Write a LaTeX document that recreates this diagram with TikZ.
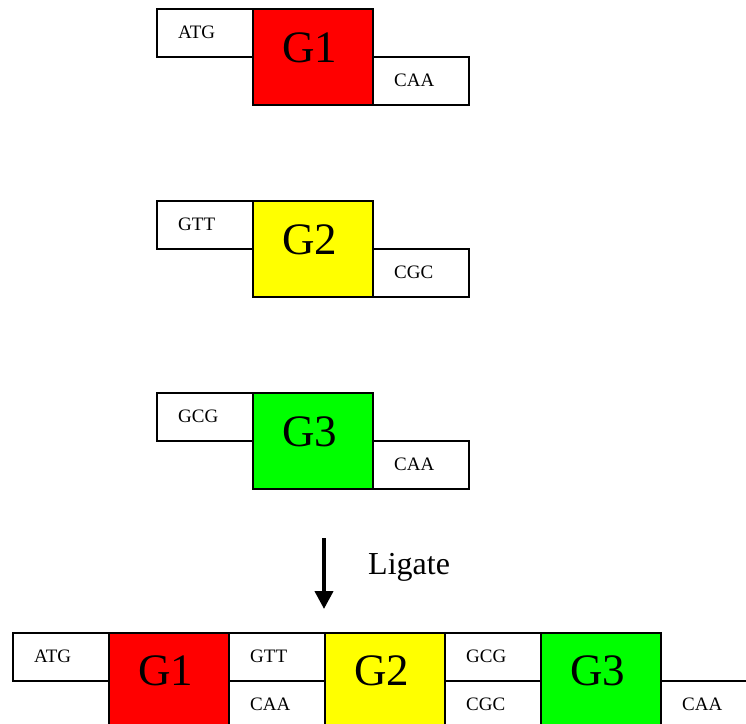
\documentclass[tikz,border=0pt]{standalone}
\usepackage{fontspec}
\setmainfont{Liberation Serif}
\usetikzlibrary{arrows.meta}
\definecolor{gred}{RGB}{255,0,0}
\definecolor{gyel}{RGB}{255,255,0}
\definecolor{ggrn}{RGB}{0,255,0}
\begin{document}
\begin{tikzpicture}[x=1pt,y=-1pt,
  ovh/.style={draw=black, line width=2pt, fill=white, minimum width=96pt, minimum height=48pt, inner sep=0pt, outer sep=0pt, anchor=north west},
  gene/.style={draw=black, line width=2pt, minimum width=120pt, minimum height=96pt, inner sep=0pt, outer sep=0pt, anchor=north west},
  seq/.style={anchor=base west, inner sep=0pt, font=\fontsize{19}{22}\selectfont},
  gname/.style={anchor=base west, inner sep=0pt, font=\fontsize{45}{50}\selectfont}]
\useasboundingbox (0,0) rectangle (746,723);
\clip (0,0) rectangle (746,723);
% module 1
\node[ovh] (a1) at (157,9) {};
\node[gene, fill=gred] (g1) at (253,9) {};
\node[ovh] (b1) at (373,57) {};
\node[seq] (ta1) at ([shift={(21,29)}]a1.north west) {ATG};
\node[seq] (tb1) at ([shift={(21,29)}]b1.north west) {CAA};
\node[gname] (tg1) at ([shift={(29,53)}]g1.north west) {G1};
% module 2
\node[ovh] (a2) at (157,201) {};
\node[gene, fill=gyel] (g2) at (253,201) {};
\node[ovh] (b2) at (373,249) {};
\node[seq] (ta2) at ([shift={(21,29)}]a2.north west) {GTT};
\node[seq] (tb2) at ([shift={(21,29)}]b2.north west) {CGC};
\node[gname] (tg2) at ([shift={(29,53)}]g2.north west) {G2};
% module 3
\node[ovh] (a3) at (157,393) {};
\node[gene, fill=ggrn] (g3) at (253,393) {};
\node[ovh] (b3) at (373,441) {};
\node[seq] (ta3) at ([shift={(21,29)}]a3.north west) {GCG};
\node[seq] (tb3) at ([shift={(21,29)}]b3.north west) {CAA};
\node[gname] (tg3) at ([shift={(29,53)}]g3.north west) {G3};
% arrow
\coordinate (as) at (324,538);
\coordinate (ae) at (324,609);
\draw[line width=4pt, -{Triangle[width=18pt,length=18pt]}] (as) -- (ae);
\node[anchor=base west, inner sep=0pt, font=\fontsize{32}{38}\selectfont] (lig) at (368,574) {Ligate};
% ligated product
\node[ovh] (pa) at (13,633) {};
\node[gene, fill=gred] (pg1) at (109,633) {};
\node[ovh] (pgtt) at (229,633) {};
\node[ovh] (pcaa1) at (229,681) {};
\node[gene, fill=gyel] (pg2) at (325,633) {};
\node[ovh] (pgcg) at (445,633) {};
\node[ovh] (pcgc) at (445,681) {};
\node[gene, fill=ggrn] (pg3) at (541,633) {};
\node[ovh] (pcaa2) at (661,681) {};
\node[seq] (pta) at ([shift={(21,29)}]pa.north west) {ATG};
\node[gname] (ptg1) at ([shift={(29,52)}]pg1.north west) {G1};
\node[seq] (ptgtt) at ([shift={(21,29)}]pgtt.north west) {GTT};
\node[seq] (ptcaa1) at ([shift={(21,29)}]pcaa1.north west) {CAA};
\node[gname] (ptg2) at ([shift={(29,52)}]pg2.north west) {G2};
\node[seq] (ptgcg) at ([shift={(21,29)}]pgcg.north west) {GCG};
\node[seq] (ptcgc) at ([shift={(21,29)}]pcgc.north west) {CGC};
\node[gname] (ptg3) at ([shift={(29,52)}]pg3.north west) {G3};
\node[seq] (ptcaa2) at ([shift={(21,29)}]pcaa2.north west) {CAA};
\end{tikzpicture}
\end{document}
